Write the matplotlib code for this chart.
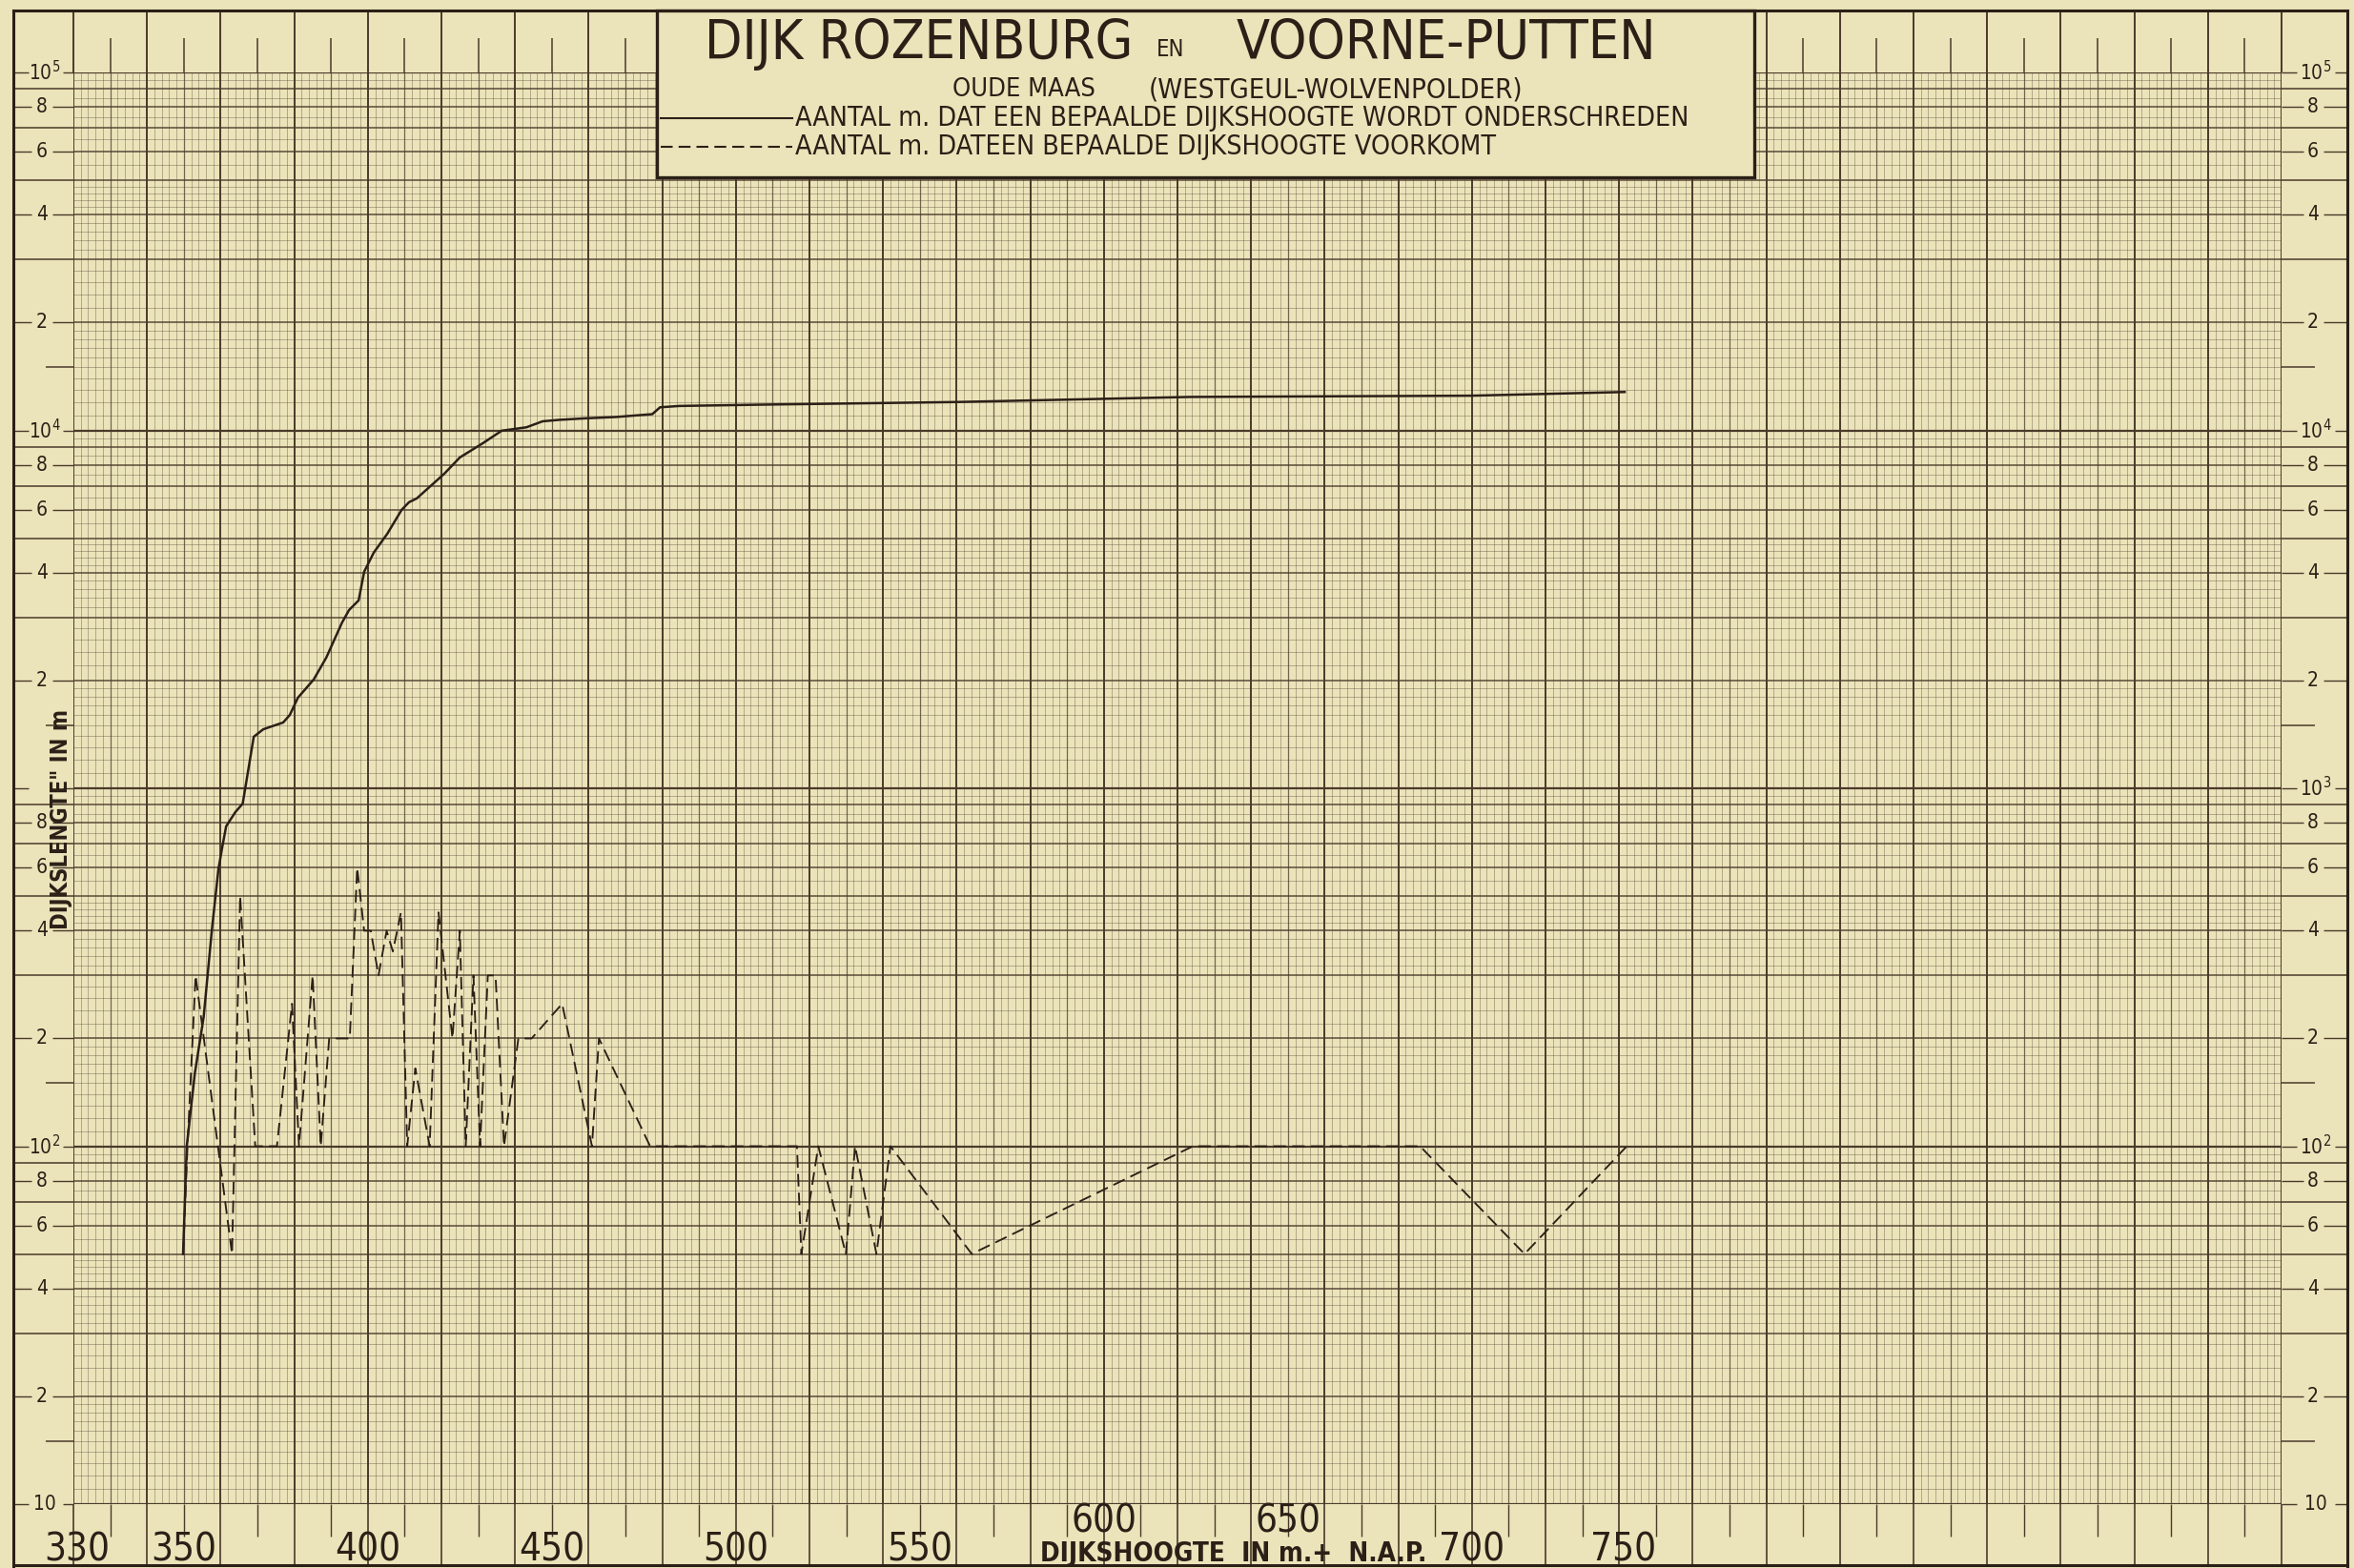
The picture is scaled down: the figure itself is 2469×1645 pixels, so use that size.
import numpy as np
import matplotlib
matplotlib.use("Agg")
import matplotlib.pyplot as plt
from matplotlib.lines import Line2D
from matplotlib.patches import Rectangle

plt.rcParams['font.family'] = ['DejaVu Sans']
plt.rcParams['font.stretch'] = 'condensed'

# dijkshoogte (cm + N.A.P.) against dijklengte (m)
cum_height = [349.8, 350.8, 353.0, 355.4, 357.6, 359.4, 360.5, 361.5, 364.0, 366.0,
              369.0, 371.6, 377.0, 378.8, 381.0, 385.3, 388.7, 393.0, 394.9, 397.5,
              399.0, 401.6, 405.3, 409.2, 411.2, 413.3, 420.8, 425.0, 431.2, 436.4,
              443.1, 447.5, 452.0, 458.7, 467.5, 477.3, 479.4, 484.6, 507.0, 560.0,
              623.5, 700.0, 741.5]
cum_length = [50, 100, 160, 230, 400, 594, 690, 783, 858, 906,
              1393, 1462, 1527, 1603, 1791, 2014, 2317, 2905, 3148, 3349,
              4027, 4553, 5144, 6000, 6300, 6455, 7570, 8400, 9200, 9980,
              10200, 10600, 10700, 10800, 10900, 11100, 11600, 11700, 11800, 12000,
              12400, 12500, 12800]

freq_height = [349.8, 351.0, 353.2, 363.1, 365.3, 369.4, 375.3, 379.4, 381.3, 385.0,
               387.2, 389.5, 395.1, 397.1, 399.0, 400.8, 402.9, 405.1, 406.8, 409.0,
               410.7, 412.9, 416.8, 419.2, 423.0, 425.0, 426.6, 428.7, 430.5, 432.6,
               434.7, 437.0, 440.9, 444.5, 452.8, 460.9, 462.8, 476.7, 516.6, 517.8,
               522.4, 529.9, 532.4, 538.2, 542.0, 564.1, 624.2, 685.9, 714.3, 742.1]
freq_length = [50, 100, 300, 50, 500, 100, 100, 250, 100, 300,
               100, 200, 200, 600, 400, 400, 300, 400, 350, 450,
               100, 165, 100, 450, 200, 400, 100, 300, 100, 300,
               300, 100, 200, 200, 250, 100, 200, 100, 100, 50,
               100, 50, 100, 50, 100, 50, 100, 100, 50, 100]

x_ticks = [330, 350, 400, 450, 500, 550, 600, 650, 700, 750]
decades = [10, 100, 1000, 10000, 100000]
decade_labels = ['10', '$10^2$', '$10^3$', '$10^4$', '$10^5$']

paper = '#EBE4BA'
ink = '#2B2017'
gridc = '#4A3A2A'

FW, FH = 2469, 1645


def fx(X):
    return X / FW


def fy(Y):
    return 1 - Y / FH


fig = plt.figure(figsize=(FW / 100, FH / 100), dpi=100, facecolor=paper)
ax = fig.add_axes([fx(77), fy(1578), (2393 - 77) / FW, (1578 - 76) / FH])
ax.set_yscale('log')
ax.set_xlim(320, 920)
ax.set_ylim(10, 1e5)
ax.set_axis_off()

AW, AH = 2393 - 77, 1578 - 76


def ax_x(X):
    return (X - 77) / AW


def ax_y(Y):
    return (1578 - Y) / AH


# millimetre grid, vertical
xs = np.arange(320, 921, 2)
heavy_x = [x for x in xs if (x - 320) % 20 == 0]
mid_x = [x for x in xs if (x - 320) % 20 == 10]
thin_x = [x for x in xs if (x - 320) % 10 != 0]
ax.vlines(thin_x, 10, 1e5, color=gridc, lw=0.55, alpha=0.45, zorder=1)
ax.vlines(mid_x, 10, 1e5, color=gridc, lw=0.9, alpha=0.75, zorder=1)
ax.vlines(heavy_x, 10, 1e5, color=gridc, lw=1.4, zorder=1)

# logarithmic grid, horizontal
minor_m = np.concatenate([np.arange(1.1, 2, 0.1), np.arange(2.2, 5, 0.2),
                          np.arange(5.5, 10, 0.5)])
minor_m = [m for m in minor_m if abs(m - round(m)) > 0.01]
thin_y = [d * m for d in decades[:-1] for m in minor_m]
major_y = [d * m for d in decades[:-1] for m in range(2, 10)]
ax.hlines(thin_y, 320, 920, color=gridc, lw=0.55, alpha=0.45, zorder=1)
ax.hlines(major_y, 320, 920, color=gridc, lw=1.1, alpha=0.9, zorder=1)
ax.hlines(decades, 320, 920, color=gridc, lw=1.6, zorder=1)

xt = ax.get_xaxis_transform()
yt = ax.get_yaxis_transform()

# ticks in the top and bottom margins
ax.vlines(heavy_x, 1, ax_y(11), transform=xt, color=gridc, lw=1.4, clip_on=False)
ax.vlines(mid_x, 1, ax_y(40), transform=xt, color=gridc, lw=1.1, clip_on=False)
ax.vlines(heavy_x, 0, ax_y(1643), transform=xt, color=gridc, lw=1.2, clip_on=False)
ax.vlines(mid_x, 0, ax_y(1612), transform=xt, color=gridc, lw=1.0, clip_on=False)

# side margins: lines at 3, 5, 7, 9 and a short one at 1.5
side_full = [d * m for d in decades[:-1] for m in (3, 5, 7, 9)]
side_half = [d * 1.5 for d in decades[:-1]]
side_lab = [d * m for d in decades[:-1] for m in (2, 4, 6, 8)]
ax.hlines(side_full, ax_x(14), 0, transform=yt, color=gridc, lw=1.1, clip_on=False)
ax.hlines(side_full, 1, ax_x(2462), transform=yt, color=gridc, lw=1.1, clip_on=False)
ax.hlines(side_half, ax_x(48), 0, transform=yt, color=gridc, lw=1.1, clip_on=False)
ax.hlines(side_half, 1, ax_x(2428), transform=yt, color=gridc, lw=1.1, clip_on=False)

ax.hlines(side_lab, ax_x(14), ax_x(33), transform=yt, color=gridc, lw=1.0, clip_on=False)
ax.hlines(side_lab, ax_x(55), 0, transform=yt, color=gridc, lw=1.0, clip_on=False)
ax.hlines(side_lab, 1, ax_x(2416), transform=yt, color=gridc, lw=1.0, clip_on=False)
ax.hlines(side_lab, ax_x(2437), ax_x(2462), transform=yt, color=gridc, lw=1.0, clip_on=False)
ax.hlines(decades, ax_x(14), ax_x(30), transform=yt, color=gridc, lw=1.0, clip_on=False)
ax.hlines(decades, ax_x(66), 0, transform=yt, color=gridc, lw=1.0, clip_on=False)
ax.hlines(decades, 1, ax_x(2409), transform=yt, color=gridc, lw=1.0, clip_on=False)
ax.hlines(decades, ax_x(2449), ax_x(2462), transform=yt, color=gridc, lw=1.0, clip_on=False)

for v in side_lab:
    s = str(int(round(v / 10 ** np.floor(np.log10(v)))))
    ax.text(ax_x(44), v, s, transform=yt, ha='center', va='center',
            fontsize=15, color=ink, clip_on=False)
    ax.text(ax_x(2426), v, s, transform=yt, ha='center', va='center',
            fontsize=15, color=ink, clip_on=False)
for v, s in zip(decades, decade_labels):
    # the left 10^3 sits under the rotated axis caption
    if v != 1000:
        ax.text(ax_x(47), v, s, transform=yt, ha='center', va='center',
                fontsize=15, color=ink, clip_on=False)
    ax.text(ax_x(2429), v, s, transform=yt, ha='center', va='center',
            fontsize=15, color=ink, clip_on=False)

# x tick labels, hand-lettered along the bottom edge
for v in x_ticks:
    ha = 'right' if v in (330, 750) else 'center'
    yy = ax_y(1597) if v in (600, 650) else ax_y(1626)
    ax.text(v, yy, str(v), transform=xt, ha=ha, va='center', fontsize=29,
            color=ink, clip_on=False)

# the two curves
ax.plot(cum_height, cum_length, color=ink, lw=1.8, solid_joinstyle='round', zorder=4)
ax.plot(freq_height, freq_length, color=ink, lw=1.35, ls=(0, (7, 3.5)), zorder=4)

# axis captions
fig.text(fx(1091), fy(1630), 'DĲKSHOOGTE  IN m.+  N.A.P.', ha='left', va='center',
         fontsize=20, weight='bold', color=ink)
fig.text(fx(64), fy(860), 'DĲKSLENGTE" IN m', rotation=90, ha='center', va='center',
         fontsize=17, weight='bold', color=ink)

# outer frame
frame_kw = dict(color=ink, lw=2.2, transform=fig.transFigure)
fig.add_artist(Line2D([fx(14), fx(2462)], [fy(11), fy(11)], **frame_kw))
fig.add_artist(Line2D([fx(14), fx(14)], [fy(11), fy(1643)], **frame_kw))
fig.add_artist(Line2D([fx(2462), fx(2462)], [fy(11), fy(1643)], **frame_kw))
fig.add_artist(Line2D([fx(14), fx(2462)], [fy(1642), fy(1642)], **frame_kw))

# title block
fig.add_artist(Rectangle((fx(689), fy(186)), (1840 - 689) / FW, (186 - 11) / FH,
                         transform=fig.transFigure, facecolor=paper, edgecolor=ink,
                         lw=2.4, zorder=5))
tkw = dict(color=ink, va='center', zorder=6)
fig.text(fx(964), fy(46), 'DĲK ROZENBURG', ha='center', fontsize=41, **tkw)
fig.text(fx(1228), fy(52), 'EN', ha='center', fontsize=17, **tkw)
fig.text(fx(1517), fy(46), 'VOORNE-PUTTEN', ha='center', fontsize=41, **tkw)
fig.text(fx(1074), fy(94), 'OUDE MAAS', ha='center', fontsize=19.5, **tkw)
fig.text(fx(1401), fy(94), '(WESTGEUL-WOLVENPOLDER)', ha='center', fontsize=21, **tkw)
fig.add_artist(Line2D([fx(693), fx(831)], [fy(124), fy(124)], color=ink, lw=1.5,
                      transform=fig.transFigure, zorder=6))
fig.add_artist(Line2D([fx(693), fx(831)], [fy(154), fy(154)], color=ink, lw=1.5,
                      ls=(0, (6, 3)), transform=fig.transFigure, zorder=6))
fig.text(fx(834), fy(124), 'AANTAL m. DAT EEN BEPAALDE DĲKSHOOGTE WORDT ONDERSCHREDEN',
         ha='left', fontsize=20.5, **tkw)
fig.text(fx(834), fy(154), 'AANTAL m. DATEEN BEPAALDE DĲKSHOOGTE VOORKOMT',
         ha='left', fontsize=20.5, **tkw)

fig.savefig('out.png', dpi=100, facecolor=paper)
